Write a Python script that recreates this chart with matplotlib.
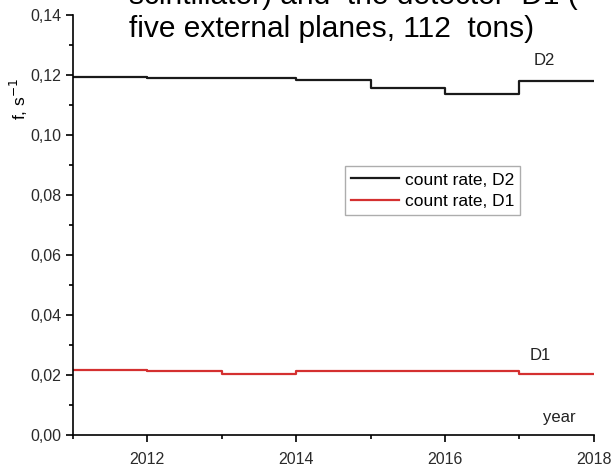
import numpy as np
import matplotlib.pyplot as plt
from matplotlib.ticker import MultipleLocator, FuncFormatter

plt.rcParams['font.family'] = ['Liberation Sans', 'DejaVu Sans']

# year boundaries and count rate in each one-year interval
years = [2011, 2012, 2013, 2014, 2015, 2016, 2017, 2018]
rate_d2 = [0.1194, 0.1190, 0.1190, 0.1183, 0.1158, 0.1136, 0.1179]
rate_d1 = [0.0218, 0.0214, 0.0204, 0.0215, 0.0213, 0.0212, 0.0202]

fig = plt.figure(figsize=(6.11, 4.66), dpi=100)
ax = fig.add_axes([0.119, 0.0665, 0.853, 0.901])

ax.step(years, rate_d2 + rate_d2[-1:], where='post', color='#1a1a1a', lw=1.6,
        label='count rate, D2')
ax.step(years, rate_d1 + rate_d1[-1:], where='post', color='#d43030', lw=1.6,
        label='count rate, D1')

ax.set_xlim(2011, 2018)
ax.set_ylim(0, 0.14)
for s in ['top', 'right']:
    ax.spines[s].set_visible(False)
for s in ['left', 'bottom']:
    ax.spines[s].set_linewidth(1.2)
ax.xaxis.set_major_locator(MultipleLocator(2))
ax.xaxis.set_minor_locator(MultipleLocator(1))
ax.yaxis.set_major_locator(MultipleLocator(0.02))
ax.yaxis.set_minor_locator(MultipleLocator(0.01))
ax.yaxis.set_major_formatter(FuncFormatter(lambda v, p: f"{v:.2f}".replace('.', ',')))
ax.tick_params(which='major', length=5, width=1.2, labelsize=11.5, direction='out',
               labelcolor='#2a2a2a')
ax.tick_params(which='minor', length=3, width=1.2, direction='out')
ax.tick_params(axis='x', which='major', pad=7)
ax.tick_params(axis='y', which='major', pad=3)

ax.set_ylabel('f, s$^{-1}$', fontsize=12.5)
ax.yaxis.set_label_coords(-0.082, 0.80)

ax.text(2017.34, 0.125, 'D2', fontsize=12, ha='center', va='center', color='#222222')
ax.text(2017.28, 0.0264, 'D1', fontsize=12, ha='center', va='center', color='#222222')
ax.text(2017.54, 0.0059, 'year', fontsize=12, ha='center', va='center', color='#222222')

ax.legend(loc='upper left', bbox_to_anchor=(0.522, 0.640), fontsize=12.5,
          frameon=True, fancybox=False, edgecolor='#999999', handlelength=2.8,
          borderpad=0.35, labelspacing=0.38, handletextpad=0.3, borderaxespad=0)

fig.text(129 / 611, 1 - 4 / 466, 'scintillator) and  the detector  D1 (',
         fontsize=21.5, ha='left', va='baseline')
fig.text(129 / 611, 1 - 37 / 466, 'five external planes, 112  tons)',
         fontsize=21.5, ha='left', va='baseline')

fig.savefig('out.png')
